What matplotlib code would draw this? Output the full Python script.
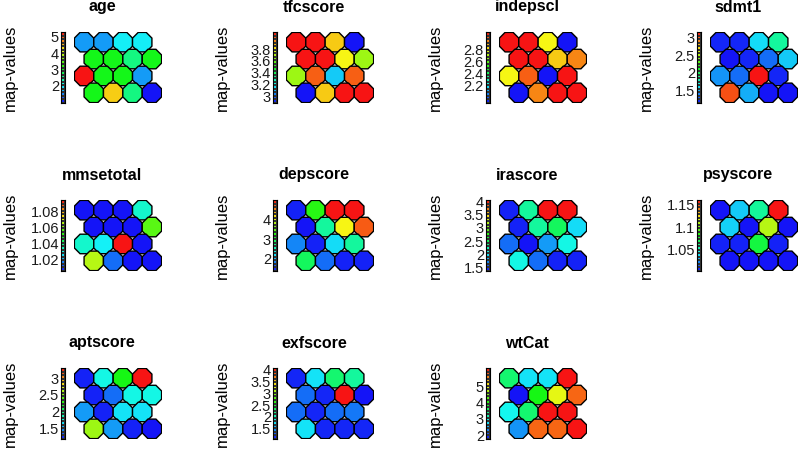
import numpy as np
import matplotlib
matplotlib.use("Agg")
import matplotlib.pyplot as plt
from matplotlib.colors import ListedColormap, Normalize, hsv_to_rgb
from matplotlib.patches import RegularPolygon

plt.rcParams['font.family'] = ['Liberation Sans', 'DejaVu Sans']

# 4x4 SOM codebook values, read row by row from the top of each map
names = ["age", "tfcscore", "indepscl", "sdmt1",
         "mmsetotal", "depscore", "irascore", "psyscore",
         "aptscore", "exfscore", "wtCat"]

age = [1.6, 1.6, 2.0, 2.0,
       3.1, 3.1, 2.6, 3.1,
       5.3, 3.1, 3.1, 1.6,
       3.1, 4.4, 2.6, 0.95]
tfcscore = [4.09, 4.09, 3.85, 2.89,
            4.09, 4.09, 3.79, 3.67,
            3.67, 3.99, 3.13, 3.99,
            2.89, 3.85, 4.09, 4.09]
indepscl = [3.10, 3.10, 2.80, 1.91,
            3.10, 3.10, 2.86, 2.95,
            2.80, 3.00, 1.91, 3.10,
            1.91, 2.95, 3.10, 3.10]
sdmt1 = [1.17, 1.17, 1.58, 1.84,
         1.13, 1.17, 1.33, 1.54,
         1.42, 1.33, 3.17, 1.17,
         3.03, 1.48, 1.13, 1.13]
mmsetotal = [1.005, 1.005, 1.005, 1.032,
             1.005, 1.005, 1.005, 1.057,
             1.032, 1.027, 1.095, 1.005,
             1.066, 1.014, 1.005, 1.005]
depscore = [1.44, 3.27, 5.02, 5.02,
            1.37, 2.65, 4.11, 4.73,
            1.84, 1.44, 2.17, 2.65,
            2.90, 1.74, 1.44, 1.44]
irascore = [1.42, 2.31, 4.06, 4.06,
            1.42, 2.31, 2.50, 1.96,
            1.64, 1.37, 1.77, 2.10,
            2.10, 1.64, 1.42, 1.42]
psyscore = [1.002, 1.034, 1.058, 1.161,
            1.035, 1.002, 1.110, 1.002,
            1.005, 1.005, 1.074, 1.005,
            1.002, 1.002, 1.002, 1.002]
aptscore = [1.21, 1.75, 2.24, 3.31,
            1.21, 1.38, 1.75, 1.75,
            1.49, 1.21, 1.66, 1.66,
            2.56, 1.49, 1.21, 1.17]
exfscore = [1.13, 1.76, 2.27, 2.12,
            1.37, 1.13, 4.07, 1.07,
            1.37, 1.13, 1.37, 1.40,
            1.76, 1.13, 1.13, 1.13]
wtCat = [3.52, 2.77, 2.77, 6.16,
         1.76, 3.96, 4.97, 5.76,
         2.90, 3.52, 6.16, 6.16,
         2.38, 5.76, 5.76, 6.16]

values = [age, tfcscore, indepscl, sdmt1, mmsetotal, depscore,
          irascore, psyscore, aptscore, exfscore, wtCat]

ticks = [[2, 3, 4, 5],
         [3, 3.2, 3.4, 3.6, 3.8],
         [2.2, 2.4, 2.6, 2.8],
         [1.5, 2, 2.5, 3],
         [1.02, 1.04, 1.06, 1.08],
         [2, 3, 4],
         [1.5, 2, 2.5, 3, 3.5, 4],
         [1.05, 1.1, 1.15],
         [1.5, 2, 2.5, 3],
         [1.5, 2, 2.5, 3, 3.5, 4],
         [2, 3, 4, 5]]

# blue -> red rainbow (reversed rainbow(end=4/6)), slightly softened
hues = np.linspace(2/3, 0, 256)
cmap = ListedColormap(hsv_to_rgb(np.column_stack([hues, np.full(256, 0.92), np.full(256, 0.97)])))

FW, FH = 800, 450
fig = plt.figure(figsize=(8, 4.5), dpi=100)

col_x = [74, 286, 499, 710]   # left of hex grid (px)
row_y = [32, 200, 368]        # top of hex grid (px)
hex_w, hex_h = 88, 71
s3 = np.sqrt(3) / 2
rad = 0.5 / np.cos(np.pi / 8)

for k, (name, vals, tk) in enumerate(zip(names, values, ticks)):
    pr, pc = divmod(k, 4)
    x0, y0 = col_x[pc], row_y[pr]
    vals = np.array(vals)
    norm = Normalize(vals.min(), vals.max())

    ax = fig.add_axes([x0 / FW, 1 - (y0 + hex_h) / FH, hex_w / FW, hex_h / FH])
    for i, v in enumerate(vals):
        r, c = divmod(i, 4)
        ax.add_patch(RegularPolygon((c + 0.5 * (r % 2), -r * s3), 8, radius=rad,
                                    orientation=np.pi / 8, facecolor=cmap(norm(v)),
                                    edgecolor="black", linewidth=1.0))
    ax.set_xlim(-0.52, 4.02)
    ax.set_ylim(-3 * s3 - 0.52, 0.52)
    ax.axis("off")

    # colour key
    cax = fig.add_axes([(x0 - 13) / FW, 1 - (y0 + hex_h) / FH, 4 / FW, hex_h / FH])
    lev = np.linspace(vals.min(), vals.max(), 21)
    mid = (lev[:-1] + lev[1:]) / 2
    cax.pcolormesh([0, 1], lev, mid.reshape(-1, 1), cmap=cmap, norm=norm,
                   edgecolors="#333333", linewidth=0.3)
    cax.set_ylim(lev[0], lev[-1])
    cax.set_xticks([])
    cax.set_yticks(tk)
    cax.set_yticklabels(["%g" % t for t in tk])
    cax.tick_params(axis="y", length=0, pad=1.5, labelsize=10.5, colors="#1a1a1a")
    for sp in cax.spines.values():
        sp.set_linewidth(0.8)

    fig.text((x0 + 28) / FW, 1 - (y0 - 25) / FH, name, ha="center", va="center",
             fontsize=11.5, fontweight="bold")
    fig.text((x0 - 64) / FW, 1 - (y0 + 36) / FH, "map-values", rotation=90,
             ha="center", va="center", fontsize=12)

fig.savefig("out.png", dpi=100)
